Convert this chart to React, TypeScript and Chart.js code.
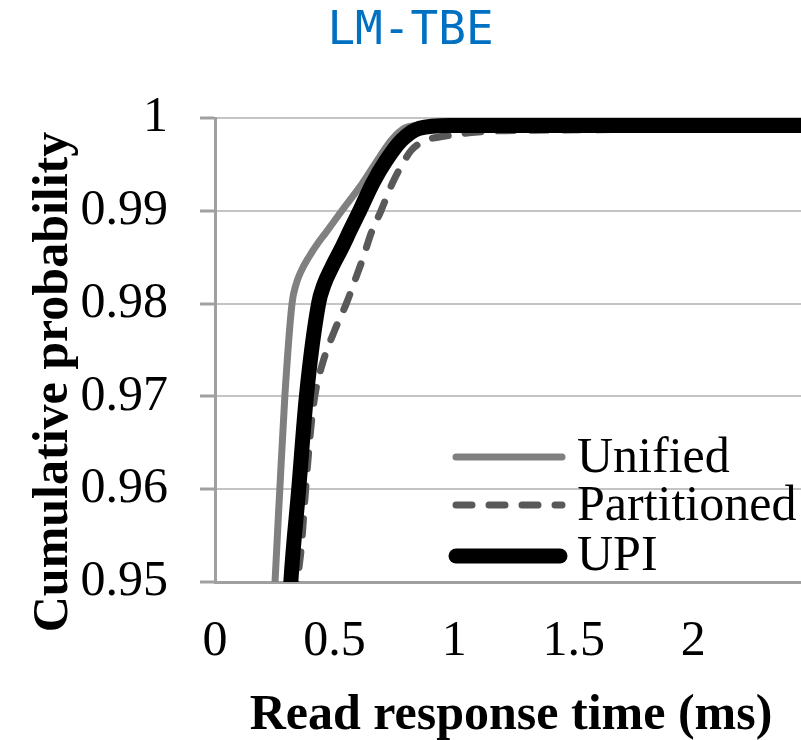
import React, { useEffect, useRef } from 'react';
import { Chart, registerables } from 'chart.js';

Chart.register(...registerables);

const chartTitle = 'LM-TBE';
const xAxisTitle = 'Read response time (ms)';
const yAxisTitle = 'Cumulative probability';
const seriesNames = ['Unified', 'Partitioned', 'UPI'];

const xMin = 0;
const xMax = 2.45;
const xTickValues = [0, 0.5, 1, 1.5, 2];
const yMin = 0.95;
const yMax = 1;
const yStep = 0.01;

const unifiedX = [0.248, 0.251, 0.271, 0.292, 0.322, 0.338, 0.36, 0.392, 0.43, 0.462, 0.53, 0.617, 0.66, 0.737, 0.785, 0.855, 1.0, 1.5, 2.0, 2.5];
const unifiedY = [0.948, 0.95, 0.96, 0.97, 0.98, 0.982, 0.9835, 0.985, 0.9865, 0.9876, 0.99, 0.993, 0.9947, 0.9976, 0.9988, 0.9992, 0.9993, 0.9993, 0.9993, 0.9993];

const partitionedX = [0.342, 0.346, 0.361, 0.379, 0.4, 0.417, 0.45, 0.5, 0.549, 0.585, 0.62, 0.653, 0.694, 0.742, 0.785, 0.82, 0.882, 0.95, 1.1, 1.4, 2.0, 2.2, 2.5];
const partitionedY = [0.948, 0.95, 0.9538, 0.96, 0.9664, 0.97, 0.9736, 0.9771, 0.98, 0.9825, 0.985, 0.9876, 0.99, 0.993, 0.9951, 0.9965, 0.9976, 0.998, 0.9985, 0.9987, 0.9988, 0.9989, 0.9991];

const upiX = [0.313, 0.317, 0.35, 0.382, 0.433, 0.455, 0.49, 0.53, 0.567, 0.605, 0.66, 0.715, 0.78, 0.855, 0.98, 1.5, 2.0, 2.5];
const upiY = [0.948, 0.95, 0.96, 0.97, 0.98, 0.982, 0.984, 0.986, 0.988, 0.99, 0.993, 0.9954, 0.9976, 0.9989, 0.9992, 0.9992, 0.9992, 0.9992];

const toPoints = (xs: number[], ys: number[]) => xs.map((x, i) => ({ x, y: ys[i] }));

const SERIF = '"Liberation Serif", "Times New Roman", serif';

const overlayPlugin = {
  id: 'overlay',
  afterDraw(chart: any) {
    const ctx = chart.ctx as CanvasRenderingContext2D;
    const area = chart.chartArea;
    ctx.save();
    // title
    ctx.fillStyle = '#0070c0';
    ctx.font = '46px "DejaVu Sans Mono", monospace';
    ctx.textAlign = 'center';
    ctx.textBaseline = 'alphabetic';
    ctx.fillText(chartTitle, 410.5, 44);

    // axis titles
    ctx.fillStyle = '#000';
    ctx.font = `bold 50px ${SERIF}`;
    ctx.fillText(xAxisTitle, (area.left + area.right) / 2 + 3, 729);
    ctx.save();
    ctx.translate(67, 382);
    ctx.rotate(-Math.PI / 2);
    ctx.fillText(yAxisTitle, 0, 0);
    ctx.restore();

    // legend
    const order = [2, 1, 0]; // dataset indices for Unified, Partitioned, UPI
    const rowsY = [457, 505, 556];
    const baseY = [472, 520, 570];
    ctx.font = `50px ${SERIF}`;
    ctx.textAlign = 'left';
    order.forEach((di, row) => {
      const ds = chart.data.datasets[di];
      ctx.save();
      ctx.strokeStyle = ds.borderColor;
      ctx.lineWidth = ds.borderWidth;
      ctx.lineCap = 'round';
      ctx.setLineDash(ds.borderDash || []);
      ctx.beginPath();
      ctx.moveTo(456, rowsY[row]);
      ctx.lineTo(ds.borderWidth > 10 ? 560 : 562, rowsY[row]);
      ctx.stroke();
      ctx.restore();
      ctx.fillStyle = '#000';
      ctx.fillText(seriesNames[row], 577, baseY[row]);
    });
    ctx.restore();
  },
};

export default function App() {
  const canvasRef = useRef<HTMLCanvasElement | null>(null);

  useEffect(() => {
    if (!canvasRef.current) return;
    const clipOpts = { left: 0, right: 0, bottom: 0, top: false } as any;
    const chart = new Chart(canvasRef.current, {
      type: 'line',
      data: {
        datasets: [
          {
            label: seriesNames[2],
            data: toPoints(upiX, upiY),
            borderColor: '#000000',
            borderWidth: 15,
            borderCapStyle: 'butt',
            pointRadius: 0,
            cubicInterpolationMode: 'monotone',
            clip: clipOpts,
          },
          {
            label: seriesNames[1],
            data: toPoints(partitionedX, partitionedY),
            borderColor: '#595959',
            borderWidth: 7,
            borderDash: [16, 17],
            borderCapStyle: 'round',
            pointRadius: 0,
            cubicInterpolationMode: 'monotone',
            clip: clipOpts,
          },
          {
            label: seriesNames[0],
            data: toPoints(unifiedX, unifiedY),
            borderColor: '#808080',
            borderWidth: 7,
            pointRadius: 0,
            cubicInterpolationMode: 'monotone',
            clip: clipOpts,
          },
        ],
      },
      options: {
        responsive: false,
        animation: false,
        devicePixelRatio: 1,
        layout: { padding: { top: 118, right: 0, bottom: 0, left: 0 } },
        plugins: {
          legend: { display: false },
          title: { display: false },
          tooltip: { enabled: false },
        },
        scales: {
          x: {
            type: 'linear',
            min: xMin,
            max: xMax,
            ticks: {
              padding: 30,
              autoSkip: false,
              maxRotation: 0,
              color: '#000',
              font: { family: SERIF, size: 50 },
              callback: (v: any) => String(Math.round(Number(v) * 10) / 10),
            },
            afterBuildTicks: (scale: any) => {
              scale.ticks = xTickValues.map((value) => ({ value }));
            },
            afterFit: (scale: any) => {
              scale.height = 158;
            },
            grid: { display: false, drawTicks: false },
            border: { display: true, color: '#a0a0a0', width: 3 },
          },
          y: {
            type: 'linear',
            min: yMin,
            max: yMax,
            ticks: {
              stepSize: yStep,
              padding: 32,
              color: '#000',
              font: { family: SERIF, size: 50 },
              callback: (v: any) => String(Math.round(Number(v) * 100) / 100),
            },
            afterFit: (scale: any) => {
              scale.width = 215;
            },
            grid: {
              color: (c: any) => (c.tick && Math.abs(c.tick.value - yMin) < 1e-6 ? 'rgba(0,0,0,0)' : '#c4c4c4'),
              lineWidth: 2,
              tickColor: '#a0a0a0',
              tickWidth: 3,
              tickLength: 15,
              drawTicks: true,
            },
            border: { display: true, color: '#a0a0a0', width: 3 },
          },
        },
      },
      plugins: [overlayPlugin],
    } as any);
    return () => chart.destroy();
  }, []);

  return (
    <div style={{ position: 'absolute', left: 0, top: 0, width: 801, height: 740, background: '#fff' }}>
      <canvas ref={canvasRef} width={801} height={740} style={{ display: 'block' }} />
    </div>
  );
}
